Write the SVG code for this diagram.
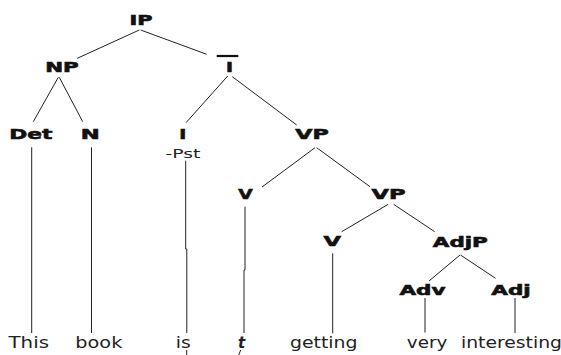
<svg xmlns="http://www.w3.org/2000/svg" width="561" height="355" viewBox="0 0 561 355">
<style>
.lbl{font-family:"DejaVu Sans",Verdana,sans-serif;font-weight:bold;font-size:14px;fill:#111;stroke:#111;stroke-width:0.6;text-anchor:middle}
.leaf{font-family:"DejaVu Sans",Verdana,sans-serif;font-size:15px;fill:#222}
.feat{font-family:"DejaVu Sans",Verdana,sans-serif;font-size:12.5px;fill:#222}
.ln{stroke:#222;stroke-width:1;fill:none}
</style>
<rect width="561" height="355" fill="#fff"/>
<g id="connectors" class="ln">
<line x1="139.3" y1="30" x2="77.3" y2="58.3"/>
<line x1="140.7" y1="30" x2="206.7" y2="54.3"/>
<line x1="58.3" y1="77.3" x2="33.3" y2="121.7"/>
<line x1="59.3" y1="77.3" x2="82.7" y2="121.7"/>
<line x1="227.7" y1="76" x2="186" y2="122.7"/>
<line x1="232.3" y1="76.7" x2="296.7" y2="125"/>
<line x1="315" y1="147.7" x2="262" y2="187"/>
<line x1="316.7" y1="147.7" x2="370" y2="186.7"/>
<line x1="388.2" y1="204.3" x2="341.7" y2="231.7"/>
<line x1="393.6" y1="204.3" x2="434.7" y2="231.7"/>
<line x1="460" y1="255" x2="429" y2="281"/>
<line x1="460.5" y1="255" x2="495.5" y2="278.3"/>
<line x1="31.7" y1="147.3" x2="31.7" y2="333"/>
<line x1="91.5" y1="147.3" x2="91.5" y2="333"/>
<polyline points="185.7,160.7 185.7,249 186.8,249 186.8,333"/>
<polyline points="245,206.7 245,270 244,270 244,333"/>
<line x1="332.7" y1="253.3" x2="332.7" y2="333.3"/>
<line x1="425" y1="298" x2="425" y2="332.5"/>
<line x1="515" y1="298" x2="515" y2="333"/>
<path d="M186.7,350 V356 M238.3,356 L240.7,350"/>
</g>
<g id="IP"><text class="lbl" x="141" y="25" textLength="23" lengthAdjust="spacingAndGlyphs">IP</text></g>
<g id="NP"><text class="lbl" x="62" y="71.7" textLength="33.5" lengthAdjust="spacingAndGlyphs">NP</text></g>
<g id="Ibar"><text class="lbl" x="229.5" y="71.7" textLength="7" lengthAdjust="spacingAndGlyphs">I</text><line x1="216.7" y1="56" x2="238.3" y2="56" stroke="#111" stroke-width="2.2"/></g>
<g id="Det"><text class="lbl" x="30.8" y="139.3" textLength="43" lengthAdjust="spacingAndGlyphs">Det</text></g>
<g id="N"><text class="lbl" x="90.3" y="139.3" textLength="19" lengthAdjust="spacingAndGlyphs">N</text></g>
<g id="I"><text class="lbl" x="182.7" y="139.3" textLength="7" lengthAdjust="spacingAndGlyphs">I</text><text class="feat" x="183" y="158.3" text-anchor="middle" textLength="35" lengthAdjust="spacingAndGlyphs">-Pst</text></g>
<g id="VP1"><text class="lbl" x="312" y="139.3" textLength="33.5" lengthAdjust="spacingAndGlyphs">VP</text></g>
<g id="V1"><text class="lbl" x="245.5" y="199.3" textLength="14.5" lengthAdjust="spacingAndGlyphs">V</text></g>
<g id="VP2"><text class="lbl" x="388.5" y="199.3" textLength="34" lengthAdjust="spacingAndGlyphs">VP</text></g>
<g id="V2"><text class="lbl" x="332.2" y="246" textLength="17.5" lengthAdjust="spacingAndGlyphs">V</text></g>
<g id="AdjP"><text class="lbl" x="460.3" y="246.5" textLength="55" lengthAdjust="spacingAndGlyphs">AdjP</text></g>
<g id="Adv"><text class="lbl" x="422.4" y="295" textLength="46" lengthAdjust="spacingAndGlyphs">Adv</text></g>
<g id="Adj"><text class="lbl" x="511" y="295" textLength="39.5" lengthAdjust="spacingAndGlyphs">Adj</text></g>
<g id="leaves">
<text class="leaf" x="8.5" y="347.7" textLength="40.5" lengthAdjust="spacingAndGlyphs">This</text>
<text class="leaf" x="75.3" y="347.7" textLength="47" lengthAdjust="spacingAndGlyphs">book</text>
<text class="leaf" x="175.8" y="347.7" textLength="15" lengthAdjust="spacingAndGlyphs">is</text>
<text class="leaf" x="241.5" y="347.7" text-anchor="middle" font-weight="bold" font-style="italic" font-family="'Liberation Serif',serif">t</text>
<text class="leaf" x="290" y="347.7" textLength="67.5" lengthAdjust="spacingAndGlyphs">getting</text>
<text class="leaf" x="406.8" y="347.7" textLength="40.5" lengthAdjust="spacingAndGlyphs">very</text>
<text class="leaf" x="461" y="347.7" textLength="101" lengthAdjust="spacingAndGlyphs">interesting</text>
</g>
</svg>
